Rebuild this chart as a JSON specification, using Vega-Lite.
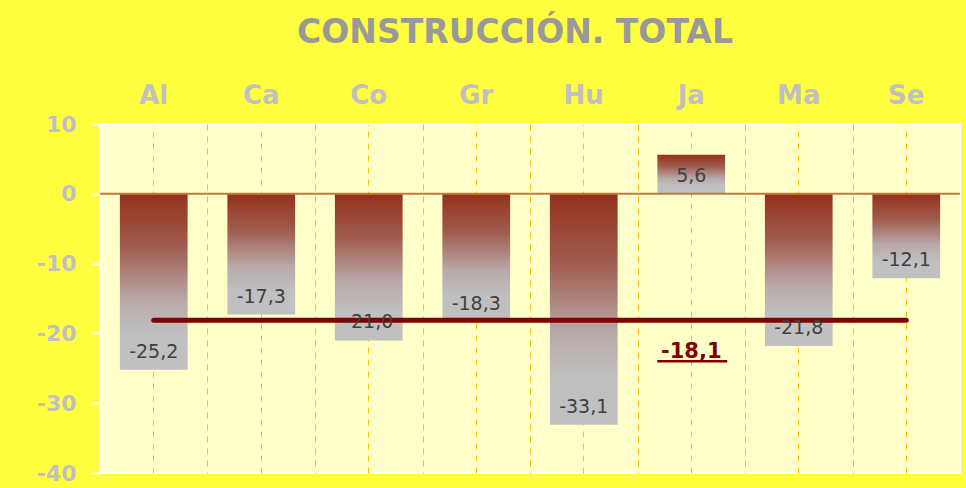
{
  "$schema": "https://vega.github.io/schema/vega-lite/v6.json",
  "width": 860,
  "height": 349,
  "autosize": {"type": "none"},
  "padding": {"left": 100, "top": 124, "right": 6, "bottom": 15},
  "background": "#FFFF40",
  "config": {
    "locale": {"number": {"decimal": ",", "thousands": ".", "grouping": [3], "currency": ["", " €"], "minus": "-"}},
    "view": {"fill": "#FFFFCA", "stroke": "#FFFFFF", "strokeWidth": 2},
    "font": "DejaVu Sans"
  },
  "title": {
    "text": "CONSTRUCCIÓN. TOTAL",
    "font": "DejaVu Sans",
    "fontSize": 33,
    "fontWeight": "bold",
    "color": "#999999",
    "anchor": "middle",
    "frame": "group",
    "dx": -15,
    "offset": 32
  },
  "datasets": {
    "barras": [
      {"provincia": "Al", "valor": -25.2},
      {"provincia": "Ca", "valor": -17.3},
      {"provincia": "Co", "valor": -21.0},
      {"provincia": "Gr", "valor": -18.3},
      {"provincia": "Hu", "valor": -33.1},
      {"provincia": "Ja", "valor": 5.6},
      {"provincia": "Ma", "valor": -21.8},
      {"provincia": "Se", "valor": -12.1}
    ],
    "media": [
      {"desde": "Al", "hasta": "Se", "valor": -18.1}
    ]
  },
  "resolve": {"axis": {"x": "independent"}},
  "layer": [
    {
      "data": {"name": "barras"},
      "mark": {
        "type": "bar",
        "color": {
          "gradient": "linear",
          "x1": 0, "y1": 0, "x2": 0, "y2": 1,
          "stops": [
            {"offset": 0, "color": "#94311A"},
            {"offset": 0.3, "color": "#A05C4E"},
            {"offset": 0.6, "color": "#B9A8A8"},
            {"offset": 0.8, "color": "#C0C0C0"},
            {"offset": 1, "color": "#C0C0C0"}
          ]
        }
      },
      "encoding": {
        "x": {
          "field": "provincia",
          "type": "nominal",
          "sort": "ascending",
          "scale": {"paddingInner": 0.37, "paddingOuter": 0.185},
          "axis": {
            "orient": "top",
            "title": null,
            "labelFont": "DejaVu Sans",
            "labelFontSize": 26,
            "labelFontWeight": "bold",
            "labelColor": "#C0C0C0",
            "labelAngle": 0,
            "labelPadding": 21,
            "labelBaseline": "alphabetic",
            "ticks": false,
            "tickSize": 0,
            "domain": false,
            "grid": true,
            "gridColor": "#FFC000",
            "gridDash": [6, 6],
            "gridWidth": 1
          }
        },
        "y": {
          "field": "valor",
          "type": "quantitative",
          "scale": {"domain": [-40, 10], "nice": false, "zero": false},
          "axis": {
            "title": null,
            "values": [-40, -30, -20, -10, 0, 10],
            "format": "d",
            "labelFont": "DejaVu Sans",
            "labelFontSize": 22,
            "labelFontWeight": "bold",
            "labelColor": "#C0C0C0",
            "labelPadding": 16,
            "tickColor": "#FFFFFF",
            "tickSize": 8,
            "tickWidth": 2,
            "domainColor": "#FFFFFF",
            "domainWidth": 2,
            "grid": false
          }
        }
      }
    },
    {
      "data": {"name": "media"},
      "mark": {"type": "rule", "color": "#C07A40", "strokeWidth": 2},
      "encoding": {
        "y": {"datum": 0, "type": "quantitative"}
      }
    },
    {
      "data": {"name": "media"},
      "mark": {"type": "rule", "color": "#800000", "strokeWidth": 5, "strokeCap": "round"},
      "encoding": {
        "x": {"field": "desde", "type": "nominal", "sort": "ascending", "axis": null},
        "x2": {"field": "hasta"},
        "y": {"field": "valor", "type": "quantitative"}
      }
    },
    {
      "data": {"name": "barras"},
      "transform": [{"filter": "datum.valor < 0"}],
      "mark": {"type": "text", "font": "DejaVu Sans", "fontSize": 19, "color": "#404040", "baseline": "middle", "dy": -18},
      "encoding": {
        "x": {
          "field": "provincia",
          "type": "nominal",
          "sort": "ascending",
          "axis": {
            "orient": "bottom",
            "title": null,
            "values": ["Al", "Ca", "Co", "Gr", "Hu", "Ja", "Ma"],
            "labels": false,
            "ticks": false,
            "domain": false,
            "grid": true,
            "tickOffset": 53.75,
            "gridColor": "#FFC000",
            "gridDash": [6, 6],
            "gridWidth": 1
          }
        },
        "y": {"field": "valor", "type": "quantitative"},
        "text": {"field": "valor", "type": "quantitative", "format": ".1f"}
      }
    },
    {
      "data": {"name": "barras"},
      "transform": [{"filter": "datum.valor >= 0"}],
      "mark": {"type": "text", "font": "DejaVu Sans", "fontSize": 19, "color": "#404040", "baseline": "middle", "dy": 21},
      "encoding": {
        "x": {"field": "provincia", "type": "nominal", "sort": "ascending", "axis": null},
        "y": {"field": "valor", "type": "quantitative"},
        "text": {"field": "valor", "type": "quantitative", "format": ".1f"}
      }
    },
    {
      "data": {"name": "media"},
      "mark": {"type": "text", "font": "DejaVu Sans", "fontSize": 21, "fontWeight": "bold", "color": "#800000", "baseline": "alphabetic", "dy": 38},
      "encoding": {
        "x": {"datum": "Ja", "type": "nominal", "axis": null},
        "y": {"field": "valor", "type": "quantitative"},
        "text": {"field": "valor", "type": "quantitative", "format": ".1f"}
      }
    },
    {
      "data": {"name": "media"},
      "mark": {"type": "rule", "color": "#800000", "strokeWidth": 2.5, "xOffset": -34, "x2Offset": 36, "yOffset": 41},
      "encoding": {
        "x": {"datum": "Ja", "type": "nominal", "axis": null},
        "x2": {"datum": "Ja"},
        "y": {"field": "valor", "type": "quantitative"}
      }
    }
  ]
}
